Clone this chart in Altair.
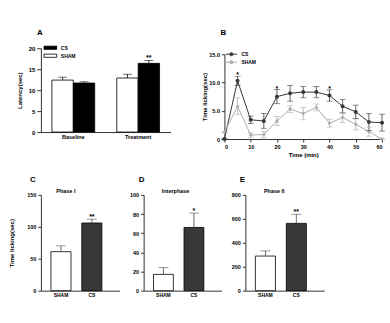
import altair as alt
import pandas as pd

FONT = "Liberation Sans"

# ---------------- Panel A data ----------------
a_conditions = ["Baseline", "Baseline", "Treatment", "Treatment"]
a_groups = ["SHAM", "CS", "SHAM", "CS"]
a_means = [12.4, 11.7, 12.9, 16.4]
a_errs = [0.7, 0.3, 0.9, 0.7]
a_sig = ["", "", "", "**"]

# ---------------- Panel B data ----------------
b_times = [0, 5, 10, 15, 20, 25, 30, 35, 40, 45, 50, 55, 60]
b_cs_mean = [0.0, 10.3, 3.4, 3.2, 7.5, 8.1, 8.3, 8.3, 7.7, 5.8, 4.8, 3.0, 2.9]
b_cs_err = [0.0, 0.8, 0.65, 1.3, 1.25, 1.4, 1.0, 1.0, 1.0, 1.2, 1.2, 1.5, 1.5]
b_sham_mean = [1.2, 5.8, 0.7, 0.8, 3.2, 5.3, 4.5, 5.6, 2.8, 3.8, 2.6, 1.3, 0.0]
b_sham_err = [0.0, 1.5, 0.4, 0.6, 0.8, 0.6, 1.1, 0.6, 0.7, 0.9, 1.0, 0.8, 0.0]
b_sig_times = [5, 20, 40]

# ---------------- Panels C, D, E data ----------------
cde_groups = ["SHAM", "CS"]
c_means = [61, 106]
c_errs = [9, 6]
d_means = [17, 66]
d_errs = [7, 15]
e_means = [289, 562]
e_errs = [43, 76]
cde_sig = ["", "**"]
d_sig = ["", "*"]

axis_common = dict(
    labelFont=FONT, labelFontWeight="bold", labelColor="black",
    titleFont=FONT, titleFontSize=6, titleFontWeight="bold", titleColor="black",
    domainColor="#333333", domainWidth=1, tickColor="#333333",
    grid=False, labelPadding=2, labelOverlap=False,
)


def letter_layer(letter, dx, dy):
    df = pd.DataFrame({"t": [letter]})
    return alt.Chart(df).mark_text(font=FONT, fontSize=8, fontWeight="bold",
                                   baseline="middle", align="center", color="black").encode(
        x=alt.value(dx), y=alt.value(dy), text="t:N")


# ---------------- Panel A ----------------
dfA = pd.DataFrame(dict(cond=a_conditions, group=a_groups, mean=a_means,
                        err=a_errs, sig=a_sig))
dfA["hi"] = dfA["mean"] + dfA["err"]

baseA = alt.Chart(dfA).encode(
    x=alt.X("cond:N", scale=alt.Scale(paddingInner=0.34, paddingOuter=0.17),
            axis=alt.Axis(title=None, labelAngle=0, labelFontSize=5.5, ticks=False, **axis_common)),
    xOffset=alt.XOffset("group:N", sort=["SHAM", "CS"], scale=alt.Scale(paddingInner=0)),
)
scaleA = alt.Scale(domain=[0, 20])
axisA = alt.Axis(title="Latency(sec)", values=[0, 5, 10, 15, 20], titlePadding=2,
                 labelFontSize=6, tickSize=4, minExtent=16, maxExtent=16, **axis_common)
barsA = baseA.mark_bar(stroke="black", strokeWidth=0.8).encode(
    y=alt.Y("mean:Q", scale=scaleA, axis=axisA),
    fill=alt.Fill("group:N", scale=alt.Scale(domain=["CS", "SHAM"], range=["black", "white"]),
                  legend=alt.Legend(title=None, orient="none", legendX=5, legendY=-5,
                                    symbolType="M-1.6,-0.4H1.6V0.4H-1.6Z", symbolSize=64,
                                    symbolStrokeColor="black", symbolStrokeWidth=0.8,
                                    labelFont=FONT, labelFontSize=5, labelFontWeight="bold",
                                    rowPadding=0, labelOffset=6)),
)
errA = baseA.mark_rule(color="black", strokeWidth=0.8).encode(
    y=alt.Y("mean:Q", scale=scaleA, axis=axisA), y2="hi:Q")
capA = baseA.mark_tick(color="black", thickness=0.8, size=9).encode(
    y=alt.Y("hi:Q", scale=scaleA, axis=axisA))
sigA = baseA.mark_text(font=FONT, fontSize=7, fontWeight="bold", baseline="bottom", dy=1).encode(
    y=alt.Y("hi:Q", scale=scaleA, axis=axisA), text="sig:N")
panelA = alt.layer(barsA, errA, capA, sigA, letter_layer("A", -1, -15)).properties(
    width=130, height=84)

# ---------------- Panel B ----------------
rows = []
for i, t in enumerate(b_times):
    rows.append(dict(time=t, group="CS", mean=b_cs_mean[i], err=b_cs_err[i]))
    rows.append(dict(time=t, group="SHAM", mean=b_sham_mean[i], err=b_sham_err[i]))
dfB = pd.DataFrame(rows)
dfB["lo"] = dfB["mean"] - dfB["err"]
dfB["hi"] = dfB["mean"] + dfB["err"]
dfBsig = dfB[(dfB["group"] == "CS") & (dfB["time"].isin(b_sig_times))].copy()
dfBsig["sig"] = "*"

B_H = 91  # view height; the y scale range starts 6px below the top
xB = alt.X("time:Q", scale=alt.Scale(domain=[0, 60], nice=False),
           axis=alt.Axis(title="Time (min)", values=[0, 10, 20, 30, 40, 50, 60], titlePadding=2,
                         labelFontSize=5.5, tickSize=3, **axis_common))
scaleB = alt.Scale(domain=[0, 15], nice=False, range=[B_H, 6])
axisB = alt.Axis(title="Time licking(sec)", values=[0, 5, 10, 15],
                 labelExpr="datum.value == 0 ? '0' : format(datum.value, '.1f')",
                 titlePadding=2, labelFontSize=5.5, tickSize=3, minExtent=15, maxExtent=15,
                 **axis_common)
colB = alt.Color("group:N", scale=alt.Scale(domain=["CS", "SHAM"], range=["#383838", "#adadad"]),
                 legend=alt.Legend(title=None, orient="none", legendX=3, legendY=2,
                                   symbolType="M-1.6,0H1.6M0.45,0A0.45,0.45 0 1,1 -0.45,0A0.45,0.45 0 1,1 0.45,0Z",
                                   symbolSize=49, symbolStrokeWidth=1,
                                   labelFont=FONT, labelFontSize=5, labelFontWeight="bold",
                                   rowPadding=0, labelOffset=6))
baseB = alt.Chart(dfB).encode(x=xB, color=colB)
ptB = baseB.mark_point(filled=True, size=16, opacity=1).encode(
    y=alt.Y("mean:Q", scale=scaleB, axis=axisB),
    shape=alt.Shape("group:N", scale=alt.Scale(domain=["CS", "SHAM"], range=["circle", "diamond"]),
                    legend=None))
lineB = baseB.mark_line(strokeWidth=1).encode(y=alt.Y("mean:Q", scale=scaleB, axis=axisB))
errB = baseB.mark_rule(strokeWidth=0.8).encode(y=alt.Y("lo:Q", scale=scaleB, axis=axisB), y2="hi:Q")
capB1 = baseB.mark_tick(thickness=0.8, size=6, orient="horizontal").encode(
    y=alt.Y("hi:Q", scale=scaleB, axis=axisB))
capB2 = baseB.mark_tick(thickness=0.8, size=6, orient="horizontal").encode(
    y=alt.Y("lo:Q", scale=scaleB, axis=axisB))
sigB = alt.Chart(dfBsig).mark_text(font=FONT, fontSize=7, fontWeight="bold", baseline="bottom", dy=2,
                                   color="black").encode(
    x=xB, y=alt.Y("hi:Q", scale=scaleB, axis=axisB), text="sig:N")
panelB = alt.layer(ptB, lineB, errB, capB1, capB2, sigB, letter_layer("B", -1, -15)).properties(
    width=158, height=B_H)


# ---------------- Panels C, D, E ----------------
def bar_panel(letter, letter_dx, phase, phase_x, means, errs, sig, ymax, ticks, ytitle, width, extent):
    df = pd.DataFrame(dict(group=cde_groups, mean=means, err=errs, sig=sig))
    df["hi"] = df["mean"] + df["err"]
    df["phase"] = phase
    base = alt.Chart(df).encode(
        x=alt.X("group:N", sort=cde_groups,
                scale=alt.Scale(paddingInner=0.35, paddingOuter=0.45, align=0.36),
                axis=alt.Axis(title=None, labelAngle=0, labelFontSize=5, ticks=False, **axis_common)),
    )
    yax = dict(values=ticks, tickSize=3, labelFontSize=5.5, minExtent=extent, maxExtent=extent,
               **axis_common)
    if ytitle:
        yax["title"] = ytitle
        yax["titlePadding"] = 2
    else:
        yax["title"] = None
    ys = alt.Scale(domain=[0, ymax], nice=False)
    ya = alt.Axis(**yax)
    bars = base.mark_bar(stroke="black", strokeWidth=0.8).encode(
        y=alt.Y("mean:Q", scale=ys, axis=ya),
        fill=alt.Fill("group:N", scale=alt.Scale(domain=["SHAM", "CS"], range=["white", "#383838"]),
                      legend=None),
    )
    err = base.mark_rule(color="#444444", strokeWidth=0.8).encode(
        y=alt.Y("mean:Q", scale=ys, axis=ya), y2="hi:Q")
    cap = base.mark_tick(color="#444444", thickness=0.8, size=10).encode(
        y=alt.Y("hi:Q", scale=ys, axis=ya))
    sg = base.mark_text(font=FONT, fontSize=7, fontWeight="bold", baseline="bottom", dy=1).encode(
        y=alt.Y("hi:Q", scale=ys, axis=ya), text="sig:N")
    ph = alt.Chart(df.iloc[:1]).mark_text(font=FONT, fontSize=5.5, fontWeight="bold",
                                          baseline="middle").encode(
        x=alt.value(phase_x), y=alt.value(-4), text="phase:N")
    return alt.layer(bars, err, cap, sg, ph, letter_layer(letter, letter_dx, -15)).properties(
        width=width, height=96)


panelC = bar_panel("C", -8, "Phase I", 25, c_means, c_errs, cde_sig, 150, [0, 50, 100, 150],
                   "Time licking(sec)", 79, 24)
panelD = bar_panel("D", -2, "Interphase", 32, d_means, d_errs, d_sig, 100, [0, 20, 40, 60, 80, 100],
                   None, 78, 12)
panelE = bar_panel("E", -3, "Phase II", 29, e_means, e_errs, cde_sig, 800, [0, 200, 400, 600, 800],
                   None, 79, 12)

top = alt.hconcat(panelA, panelB, spacing=31).resolve_scale(color="independent", fill="independent")
bottom = alt.hconcat(panelC, panelD, panelE, spacing=9).resolve_scale(fill="independent", y="independent")

chart = alt.vconcat(top, bottom, spacing=18).properties(
    padding={"left": 9, "top": 29, "right": 5, "bottom": 5},
    background="white",
).configure_view(stroke=None).configure_axis(labelOverlap=False).resolve_scale(
    color="independent", fill="independent")

chart.save("out.html", embed_options={"renderer": "svg", "actions": False})
